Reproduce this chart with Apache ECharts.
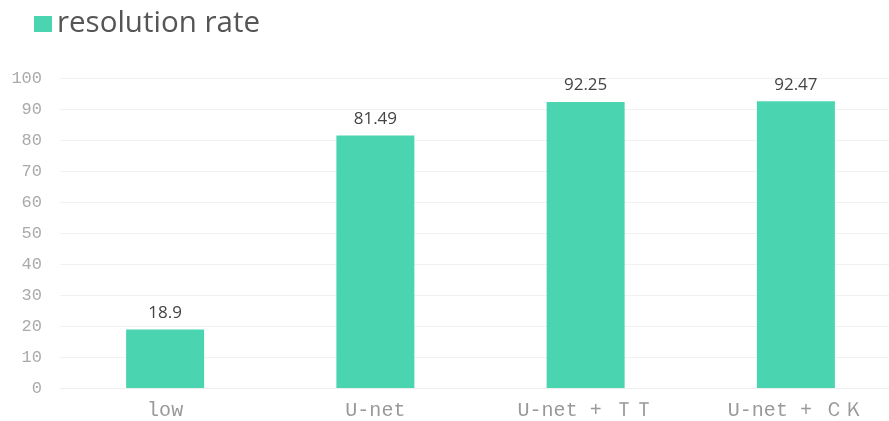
<!DOCTYPE html>
<html>
<head>
<meta charset="utf-8">
<script src="https://cdn.jsdelivr.net/npm/echarts@6/dist/echarts.min.js"></script>
<style>
  html, body { margin: 0; padding: 0; background: #fff; }
  #chart { width: 889px; height: 421px; }
</style>
</head>
<body>
<div id="chart"></div>
<script>
// Method names along the x axis
const categories = ['low', 'U-net', 'U-net + ＴＴ', 'U-net + ＣＫ'];
// Resolution rate per method
const resolutionRate = [18.9, 81.49, 92.25, 92.47];
// Y axis range and step
const yMin = 0;
const yMax = 100;
const yStep = 10;

const chart = echarts.init(document.getElementById('chart'));
chart.setOption({
  animation: false,
  legend: {
    left: 29,
    top: 4,
    icon: 'rect',
    itemWidth: 18,
    itemHeight: 16,
    itemGap: 9,
    textStyle: { fontSize: 29.5, color: '#555', fontFamily: 'Open Sans' },
    data: ['resolution rate']
  },
  // plot area runs past the right edge of the canvas
  grid: { left: 60, top: 78, width: 841, height: 310, outerBoundsMode: 'none', containLabel: false },
  xAxis: {
    type: 'category',
    data: categories,
    axisTick: { show: false },
    axisLine: { lineStyle: { color: '#eeeeee' } },
    axisLabel: { margin: 13, fontSize: 20, color: '#999', fontFamily: 'Liberation Mono' }
  },
  yAxis: {
    type: 'value',
    min: yMin,
    max: yMax,
    interval: yStep,
    axisLine: { show: false },
    axisTick: { show: false },
    splitLine: { lineStyle: { color: '#f2f2f2' } },
    axisLabel: { margin: 18, fontSize: 17, color: '#aaa', fontFamily: 'Liberation Mono' }
  },
  series: [{
    name: 'resolution rate',
    type: 'bar',
    data: resolutionRate,
    barWidth: 78,
    itemStyle: { color: '#4ad4b0' },
    label: {
      show: true,
      position: 'top',
      distance: 8,
      fontSize: 17,
      color: '#444',
      fontFamily: 'Open Sans'
    }
  }]
});
</script>
</body>
</html>
